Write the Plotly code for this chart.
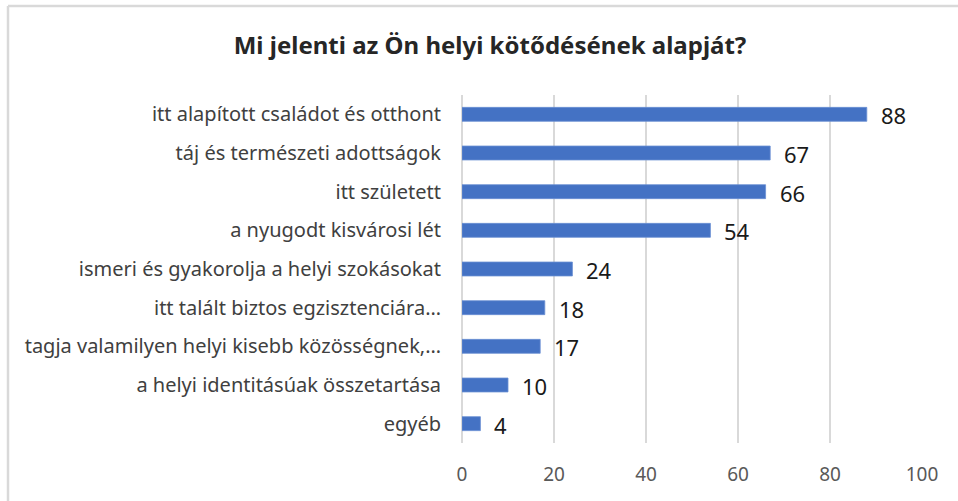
import plotly.graph_objects as go

# Survey answers: what the respondent's local attachment is based on
categories = [
    "itt alapított családot és otthont",
    "táj és természeti adottságok",
    "itt született",
    "a nyugodt kisvárosi lét",
    "ismeri és gyakorolja a helyi szokásokat",
    "itt talált biztos egzisztenciára…",
    "tagja valamilyen helyi kisebb közösségnek,…",
    "a helyi identitásúak összetartása",
    "egyéb",
]
counts = [88, 67, 66, 54, 24, 18, 17, 10, 4]
x_ticks = [0, 20, 40, 60, 80, 100]

FONT = "Noto Sans"
BAR = "#4472C4"
GRID = "#D9D9D9"

W, H = 958, 501
ML, MR, MT, MB = 462, 36, 95, 58
PW, PH = W - ML - MR, H - MT - MB

fig = go.Figure()
fig.add_trace(go.Bar(
    x=counts,
    y=categories,
    orientation="h",
    width=0.36,
    marker=dict(color=BAR, line=dict(color="#6A8FD3", width=0.8)),
    hoverinfo="x+y",
))

# value labels to the right of each bar
for c, v in zip(categories, counts):
    fig.add_annotation(
        x=v, y=c, xref="x", yref="y",
        text=str(v), showarrow=False,
        xanchor="left", yanchor="middle",
        xshift=12, yshift=-1,
        font=dict(family=FONT, size=22, color="#1A1A1A"),
    )

# light grey frame (top and left edges visible)
fx = (8 - ML) / PW
fy = 1 + (MT - 6) / PH
fig.add_shape(type="line", xref="paper", yref="paper",
              x0=fx, x1=1.2, y0=fy, y1=fy,
              line=dict(color=GRID, width=2.5))
fig.add_shape(type="line", xref="paper", yref="paper",
              x0=fx, x1=fx, y0=fy, y1=-0.3,
              line=dict(color=GRID, width=2.5))

fig.update_layout(
    width=W, height=H,
    margin=dict(l=ML, r=MR, t=MT, b=MB, autoexpand=False),
    paper_bgcolor="white", plot_bgcolor="white",
    showlegend=False,
    title=dict(
        text="<b>Mi jelenti az Ön helyi kötődésének alapját?</b>",
        x=490 / W, xref="container", xanchor="center",
        y=1 - 46 / H, yref="container", yanchor="middle",
        font=dict(family=FONT, size=24, color="#262626"),
    ),
    font=dict(family=FONT),
    xaxis=dict(
        range=[0, 100],
        tickvals=x_ticks,
        showgrid=True, gridcolor=GRID, gridwidth=1.5,
        zeroline=True, zerolinecolor=GRID, zerolinewidth=1.5,
        showline=False, ticks="",
        tickfont=dict(family=FONT, size=19, color="#595959"),
        ticklabelstandoff=18,
        fixedrange=True,
    ),
    yaxis=dict(
        categoryorder="array", categoryarray=categories,
        range=[len(categories) - 0.5, -0.5],
        showgrid=False, zeroline=False, showline=False, ticks="",
        tickfont=dict(family=FONT, size=20, color="#404040"),
        ticklabelstandoff=20,
        fixedrange=True,
    ),
)

fig.write_html("out.html")
